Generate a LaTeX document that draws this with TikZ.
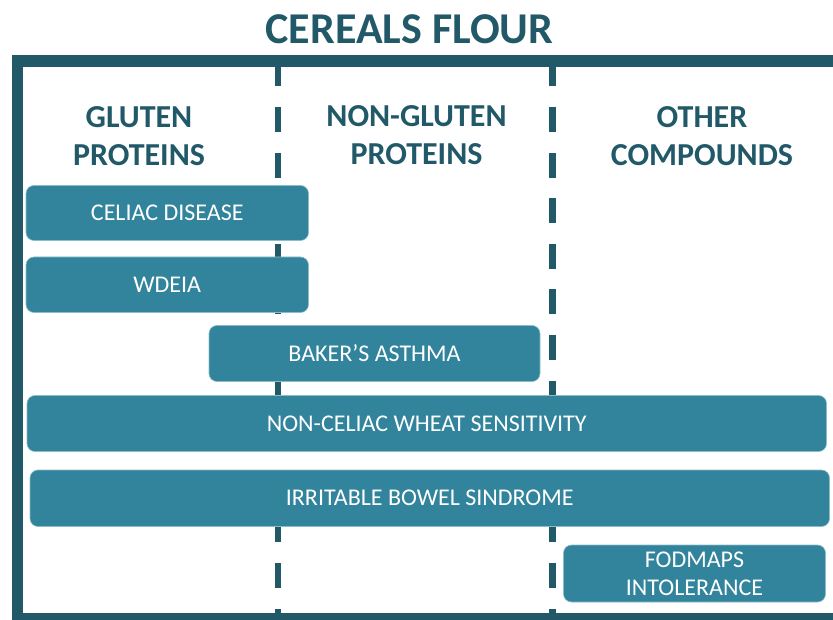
\documentclass[tikz,border=0pt]{standalone}
\usepackage{fontspec}
\setmainfont{Carlito}
\definecolor{framec}{RGB}{33,89,104}
\definecolor{boxc}{RGB}{49,132,155}
\begin{document}
\begin{tikzpicture}[x=1pt,y=-1pt,
  disease/.style={draw=boxc!55!white, line width=0.6pt, fill=boxc, rounded corners=8pt,
    text=white, font=\fontsize{24}{28}\selectfont, align=center, inner sep=0pt},
  header/.style={text=framec, font=\bfseries\fontsize{32}{38}\selectfont, align=center, inner sep=0pt},
  divider/.style={draw=framec, line width=6.5pt, dash pattern=on 25pt off 20.6pt},
  frameline/.style={draw=framec, line width=11.5pt}]
\useasboundingbox (0,0) rectangle (833,620);
% dividers
\coordinate (d1top) at (278,61.4);
\coordinate (d1bot) at (278,619);
\coordinate (d2top) at (552.5,61.4);
\coordinate (d2bot) at (552.5,619);
\draw[divider] (d1top) -- (d1bot);
\draw[divider] (d2top) -- (d2bot);
% frame
\begin{scope}
\clip (0,0) rectangle (833,620);
\draw[frameline] (17.5,61) rectangle (845,619);
\end{scope}
% title
\node[text=framec, font=\bfseries\fontsize{44}{50}\selectfont, inner sep=0pt] (title) at (409.5,29) {CEREALS FLOUR};
% headers
\node[header] (gluten) at (139,136.5) {GLUTEN\\PROTEINS};
\node[header] (nongluten) at (416.5,135.5) {NON-GLUTEN\\PROTEINS};
\node[header] (other) at (702,136.5) {OTHER\\COMPOUNDS};
% disease boxes
\node[disease, minimum width=282.5pt, minimum height=55pt] (celiac) at (167.25,213) {CELIAC DISEASE};
\node[disease, minimum width=282.5pt, minimum height=55.5pt] (wdeia) at (167.25,284.75) {WDEIA};
\node[disease, minimum width=331pt, minimum height=56pt] (baker) at (374.5,353.5) {BAKER’S ASTHMA};
\node[disease, minimum width=799.5pt, minimum height=56pt] (ncws) at (426.75,423.5) {NON-CELIAC WHEAT SENSITIVITY};
\node[disease, minimum width=799.5pt, minimum height=56.5pt] (ibs) at (429.75,498.25) {IRRITABLE BOWEL SINDROME};
\node[disease, minimum width=262pt, minimum height=57pt] (fodmaps) at (694.5,573.5) {FODMAPS\\INTOLERANCE};
\end{tikzpicture}
\end{document}
